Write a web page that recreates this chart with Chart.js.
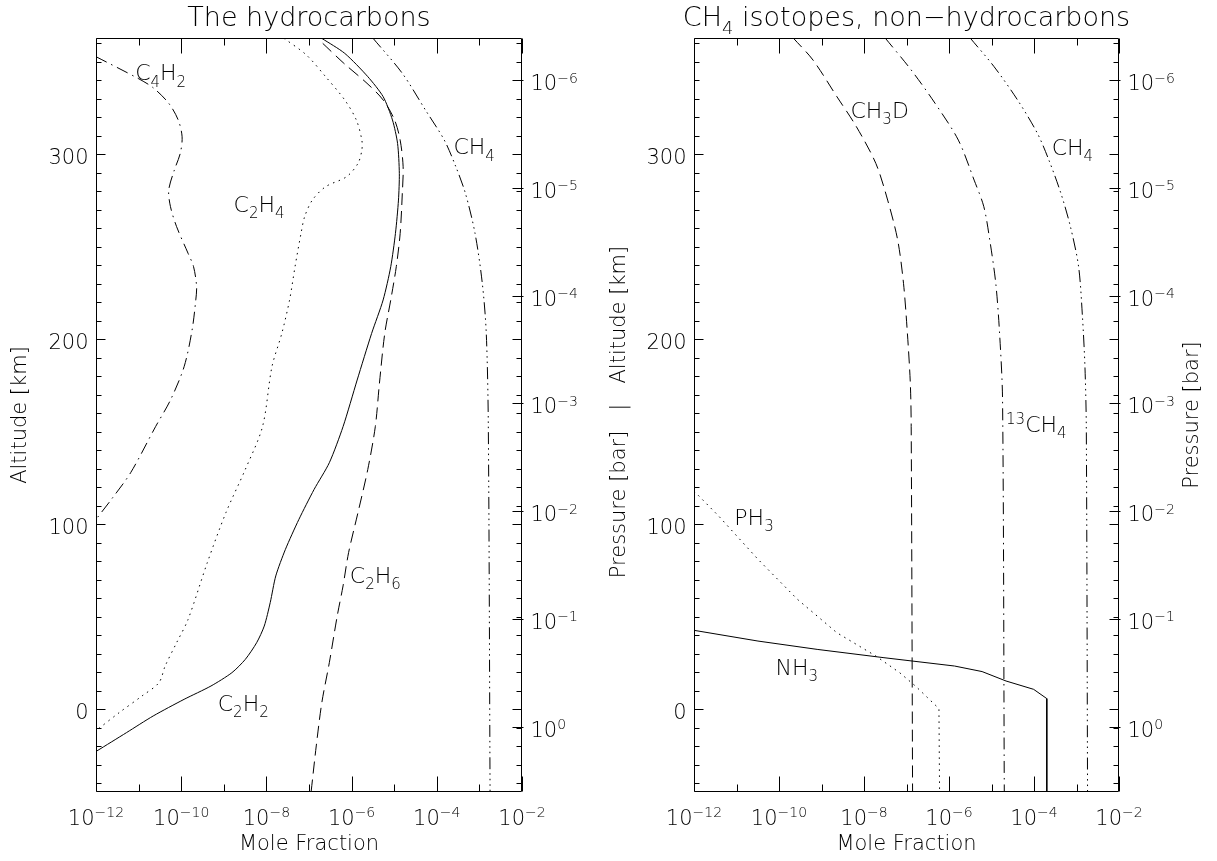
<!DOCTYPE html>
<html>
<head>
<meta charset="utf-8">
<script src="https://cdn.jsdelivr.net/npm/chart.js@4.4.1/dist/chart.umd.min.js"></script>
<style>
  html, body { margin: 0; padding: 0; background: #fff; }
  #wrap { position: relative; width: 1217px; height: 861px; overflow: hidden; background:#fff; }
  canvas { position: absolute; top: 0; }
  #cA { left: 0; }
  #cB { left: 608px; }
</style>
</head>
<body>
<div id="wrap">
  <canvas id="cA" width="608" height="861"></canvas>
  <canvas id="cB" width="609" height="861"></canvas>
</div>
<script>
// ---------------- DATA ----------------
// Axis ticks (labels written as base^exponent)
const xTickValues = [1e-12, 1e-10, 1e-8, 1e-6, 1e-4, 1e-2];
const xTickLabels = ['10^\u221212', '10^\u221210', '10^\u22128', '10^\u22126', '10^\u22124', '10^\u22122'];
const altTickValues = [0, 100, 200, 300];
const altTickLabels = ['0', '100', '200', '300'];
const presTickValues = [1e-6, 1e-5, 1e-4, 1e-3, 1e-2, 1e-1, 1e0];
const presTickLabels = ['10^\u22126', '10^\u22125', '10^\u22124', '10^\u22123', '10^\u22122', '10^\u22121', '10^0'];

// Left panel: the hydrocarbons (altitude km, mole fraction)
const c4h2Alt  = [352.8, 341, 336, 327.6, 318.6, 309.5, 300.5, 291.5, 280.7, 271.7, 260.9, 246.5, 239.3, 228.5, 221.3, 205, 185.2, 167.2, 152.8, 127.9, 113.5, 102.7];
const c4h2Frac = [1.0e-12, 9.8e-12, 2.2e-11, 5.1e-11, 8.5e-11, 1.05e-10, 9.5e-11, 6.9e-11, 5.1e-11, 5.6e-11, 7.8e-11, 1.45e-10, 1.95e-10, 2.3e-10, 2.2e-10, 1.8e-10, 1.17e-10, 5.6e-11, 2.5e-11, 6.5e-12, 2.3e-12, 1.0e-12];

const c2h4Alt  = [362.7, 353.7, 342, 329.4, 318.6, 307.7, 302.3, 295.1, 287.9, 282.5, 275.3, 266.3, 257.3, 239.3, 221.3, 203.2, 185.2, 152.8, 129.7, 106.3, 79.3, 48.6, 36, 23.4, 14.4, 7.2, -1.8, -10.8];
const c2h4Frac = [2.6e-8, 8.7e-8, 2.45e-7, 6.9e-7, 1.29e-6, 1.74e-6, 1.74e-6, 1.41e-6, 7.6e-7, 2.45e-7, 1.2e-7, 7.9e-8, 6.5e-8, 4.7e-8, 3.5e-8, 2.3e-8, 1.35e-8, 8.1e-9, 3.2e-9, 1.12e-9, 4.1e-10, 1.45e-10, 7.8e-11, 4.2e-11, 3.0e-11, 1.2e-11, 3.5e-12, 1.1e-12];

const c2h2Alt  = [362.7, 354.6, 342, 331.2, 318.6, 305.9, 289.7, 275.3, 257.3, 239.3, 221.3, 203.2, 178, 152.8, 133.3, 118.9, 102.7, 86.5, 72.1, 57.7, 45, 36, 27, 19.8, 12.6, 5.4, -3.6, -12.6, -22.5];
const c2h2Frac = [2.0e-7, 6.9e-7, 2.4e-6, 5.5e-6, 9.1e-6, 1.2e-5, 1.32e-5, 1.26e-5, 1.07e-5, 8.3e-6, 5.5e-6, 2.95e-6, 1.35e-6, 6.3e-7, 3.0e-7, 1.32e-7, 5.8e-8, 2.8e-8, 1.66e-8, 1.23e-8, 8.9e-9, 5.9e-9, 3.2e-9, 1.55e-9, 5.0e-10, 1.17e-10, 2.2e-11, 5.2e-12, 1.05e-12];

const c2h6Alt  = [360, 349.2, 338.4, 329.4, 318.6, 307.7, 293.3, 278.9, 257.3, 239.3, 221.3, 203.2, 176.2, 152.8, 129.7, 106.3, 84.7, 66.7, 50.5, 25.2, 3.6, -19.8, -44.7];
const c2h6Frac = [2.1e-7, 6.6e-7, 2.3e-6, 5.5e-6, 1.02e-5, 1.38e-5, 1.62e-5, 1.55e-5, 1.38e-5, 1.12e-5, 8.3e-6, 6.0e-6, 4.5e-6, 3.6e-6, 2.4e-6, 1.41e-6, 8.5e-7, 6.3e-7, 4.6e-7, 3.0e-7, 2.0e-7, 1.48e-7, 1.12e-7];

const ch4LAlt  = [362.7, 343.8, 324, 307.7, 293.3, 278.9, 257.3, 230.3, 203.2, 152.8, -44.7];
const ch4LFrac = [3.2e-6, 1.55e-5, 5.4e-5, 1.5e-4, 2.8e-4, 4.7e-4, 7.9e-4, 1.17e-3, 1.45e-3, 1.62e-3, 1.78e-3];

// Right panel: CH4 isotopes, non-hydrocarbons
const ch3dAlt  = [362.7, 351, 331.2, 315, 295.1, 275.3, 253.7, 230.3, 203.2, 176.2, 152.8, -44.7];
const ch3dFrac = [2.2e-10, 6.3e-10, 2.3e-9, 6.6e-9, 1.9e-8, 3.6e-8, 6.2e-8, 8.5e-8, 1.05e-7, 1.23e-7, 1.29e-7, 1.39e-7];

const c13h4Alt  = [362.7, 345.6, 327.6, 307.7, 286.1, 271.7, 253.7, 230.3, 203.2, 167.2, -44.7];
const c13h4Frac = [3.2e-8, 1.29e-7, 4.7e-7, 1.66e-6, 3.9e-6, 6.6e-6, 9.1e-6, 1.26e-5, 1.55e-5, 1.82e-5, 2.0e-5];

const ch4RAlt  = [362.7, 347.4, 329.4, 311.4, 296.9, 278.9, 260.9, 239.3, 212.3, 185.2, 152.8, -44.7];
const ch4RFrac = [3.2e-6, 1.15e-5, 4.1e-5, 1.2e-4, 2.24e-4, 4.3e-4, 7.2e-4, 1.12e-3, 1.38e-3, 1.58e-3, 1.7e-3, 1.82e-3];

const ph3Alt  = [118, 104.5, 81.1, 59.5, 41.4, 28.8, 19.8, 12.6, 0.4, -44.7];
const ph3Frac = [1.0e-12, 3.8e-12, 3.2e-11, 2.7e-10, 2.3e-9, 1.9e-8, 6.9e-8, 1.62e-7, 5.8e-7, 6.0e-7];

const nh3Alt  = [42.7, 36.9, 32.4, 27.9, 23.4, 20.4, 15.3, 10.8, 5.8, -44.7];
const nh3Frac = [1.0e-12, 3.2e-11, 7.9e-10, 2.95e-8, 1.35e-6, 6.0e-6, 2.2e-5, 9.8e-5, 2.0e-4, 2.0e-4];

// ---------------- STYLE / HELPERS ----------------
const FONT = '"DejaVu Sans", "Liberation Sans", sans-serif';
const FW = '200';
const INK = '#000';
const DOT = [1.5, 4.5];
const DASH = [12, 6];
const DASHDOT = [12, 5, 1.5, 5];
const DASH3DOT = [12, 4, 1.5, 4, 1.5, 4, 1.5, 4];

function pts(alt, frac) { return frac.map((f, i) => ({ x: f, y: alt[i] })); }
function ds(alt, frac, dash, tension) {
  return { data: pts(alt, frac), borderColor: '#000', borderWidth: 1, borderDash: dash,
           pointRadius: 0, showLine: true, fill: false, tension: tension };
}
function fixTicks(vals) { return s => { s.ticks = vals.map(v => ({ value: v })); }; }

function fontStr(size) { return FW + ' ' + size + 'px ' + FONT; }
function drawParts(ctx, parts, x, y, size) {
  let cx = x;
  for (const p of parts) {
    let fs = size, dy = 0;
    if (p.sub) { fs = Math.round(size * 0.68); dy = size * 0.28; }
    if (p.sup) { fs = Math.round(size * 0.66); dy = -size * 0.36; }
    ctx.font = fontStr(fs);
    ctx.fillText(p.t, cx, y + dy);
    cx += ctx.measureText(p.t).width;
  }
  return cx - x;
}
function measureParts(ctx, parts, size) {
  let w = 0;
  for (const p of parts) {
    let fs = size;
    if (p.sub) fs = Math.round(size * 0.68);
    if (p.sup) fs = Math.round(size * 0.66);
    ctx.font = fontStr(fs);
    w += ctx.measureText(p.t).width;
  }
  return w;
}
function powParts(s) {
  const i = s.indexOf('^');
  if (i < 0) return [{ t: s }];
  return [{ t: s.slice(0, i) }, { t: s.slice(i + 1), sup: true }];
}

const TICK = 21;
const decorPlugin = {
  id: 'decor',
  afterDraw(chart) {
    const o = chart.options.plugins.decor;
    const ctx = chart.ctx;
    const a = chart.chartArea;
    const xs = chart.scales.x, ya = chart.scales.y, yp = chart.scales.yp;
    ctx.save();
    ctx.strokeStyle = '#000';
    ctx.lineWidth = 1;
    ctx.setLineDash([]);
    const L = Math.round(a.left) + 0.5, R = Math.round(a.right) - 0.5;
    const T = Math.round(a.top) + 0.5, B = Math.round(a.bottom) - 0.5;
    ctx.beginPath();
    ctx.rect(L, T, R - L, B - T);
    for (let d = -12; d <= -2; d++) {
      const px = Math.round(xs.getPixelForValue(Math.pow(10, d))) + 0.5;
      const len = (d % 2 === 0) ? 15 : 7;
      ctx.moveTo(px, B); ctx.lineTo(px, B - len);
      ctx.moveTo(px, T); ctx.lineTo(px, T + len);
    }
    for (let h = -40; h <= 360; h += 10) {
      const py = Math.round(ya.getPixelForValue(h)) + 0.5;
      const len = (h % 100 === 0) ? 9 : 5;
      ctx.moveTo(L, py); ctx.lineTo(L + len, py);
      ctx.moveTo(R, py); ctx.lineTo(R - len, py);
    }
    for (const v of presTickValues) {
      const py = Math.round(yp.getPixelForValue(v)) + 0.5;
      ctx.moveTo(R + 2, py); ctx.lineTo(R - 9, py);
    }
    ctx.stroke();

    ctx.fillStyle = INK;
    ctx.textBaseline = 'alphabetic';
    ctx.textAlign = 'left';
    // x tick labels
    xTickValues.forEach((v, i) => {
      const parts = powParts(xTickLabels[i]);
      const w = measureParts(ctx, parts, TICK);
      const px = xs.getPixelForValue(v);
      drawParts(ctx, parts, px - w / 2, B + 33, TICK);
    });
    // altitude tick labels
    altTickValues.forEach((v, i) => {
      const parts = powParts(altTickLabels[i]);
      const w = measureParts(ctx, parts, TICK);
      const py = ya.getPixelForValue(v);
      drawParts(ctx, parts, L - 8 - w, py + 10, TICK);
    });
    // pressure tick labels
    presTickValues.forEach((v, i) => {
      const parts = powParts(presTickLabels[i]);
      const py = yp.getPixelForValue(v);
      drawParts(ctx, parts, R + 9, py + 10, TICK);
    });
    // curve labels
    for (const l of o.labels) {
      const px = xs.getPixelForValue(l.x), py = ya.getPixelForValue(l.y);
      drawParts(ctx, l.parts, px, py, 22);
    }
    // title
    const cxm = (a.left + a.right) / 2;
    const tw = measureParts(ctx, o.title, 27);
    drawParts(ctx, o.title, cxm - tw / 2, 26, 27);
    // x title
    ctx.font = fontStr(21);
    ctx.textAlign = 'center';
    ctx.textBaseline = 'middle';
    ctx.fillText('Mole Fraction', cxm, 845);
    // y titles (rotated)
    const cym = (a.top + a.bottom) / 2;
    for (const t of o.yTitles) {
      ctx.save();
      ctx.translate(t.x, cym + (t.dy || 0));
      ctx.rotate(-Math.PI / 2);
      ctx.fillText(t.text, 0, 0);
      ctx.restore();
    }
    ctx.restore();
  }
};

function makeChart(id, datasets, leftW, rightW, decor) {
  const hidden = { display: false };
  return new Chart(document.getElementById(id), {
    type: 'scatter',
    data: { datasets: datasets },
    options: {
      responsive: false, animation: false, devicePixelRatio: 1,
      layout: { padding: { top: 38, left: 0, right: 0, bottom: 0 } },
      plugins: { legend: { display: false }, tooltip: { enabled: false }, title: { display: false }, decor: decor },
      events: [],
      scales: {
        x: {
          type: 'logarithmic', position: 'bottom', min: 1e-12, max: 1e-2,
          afterBuildTicks: fixTicks(xTickValues),
          afterFit: s => { s.height = 69; },
          grid: { display: false, drawTicks: false }, border: { display: false },
          ticks: hidden
        },
        y: {
          type: 'linear', position: 'left', min: -44.7, max: 362.9,
          afterBuildTicks: fixTicks(altTickValues),
          afterFit: s => { s.width = leftW; },
          grid: { display: false, drawTicks: false }, border: { display: false },
          ticks: hidden
        },
        yp: {
          type: 'logarithmic', position: 'right', reverse: true, min: 4.05e-7, max: 4.04,
          afterBuildTicks: fixTicks(presTickValues),
          afterFit: s => { s.width = rightW; },
          grid: { display: false, drawTicks: false }, border: { display: false },
          ticks: hidden
        }
      }
    },
    plugins: [decorPlugin]
  });
}

makeChart('cA', [
  ds(c4h2Alt, c4h2Frac, DASHDOT, 0.3),
  ds(c2h4Alt, c2h4Frac, DOT, 0.3),
  ds(c2h2Alt, c2h2Frac, [], 0.25),
  ds(c2h6Alt, c2h6Frac, DASH, 0.3),
  ds(ch4LAlt, ch4LFrac, DASH3DOT, 0.3)
], 96, 86, {
  title: [{ t: 'The hydrocarbons' }],
  yTitles: [{ text: 'Altitude [km]', x: 21 }],
  labels: [
    { parts: [{ t: 'C' }, { t: '4', sub: true }, { t: 'H' }, { t: '2', sub: true }], x: 8.3e-12, y: 340 },
    { parts: [{ t: 'C' }, { t: '2', sub: true }, { t: 'H' }, { t: '4', sub: true }], x: 1.7e-9, y: 268.8 },
    { parts: [{ t: 'CH' }, { t: '4', sub: true }], x: 2.45e-4, y: 300 },
    { parts: [{ t: 'C' }, { t: '2', sub: true }, { t: 'H' }, { t: '6', sub: true }], x: 9.1e-7, y: 68.3 },
    { parts: [{ t: 'C' }, { t: '2', sub: true }, { t: 'H' }, { t: '2', sub: true }], x: 7.2e-10, y: -1 }
  ]
});

makeChart('cB', [
  ds(ch3dAlt, ch3dFrac, DASH, 0.3),
  ds(c13h4Alt, c13h4Frac, DASHDOT, 0.3),
  ds(ch4RAlt, ch4RFrac, DASH3DOT, 0.3),
  ds(ph3Alt, ph3Frac, DOT, 0),
  ds(nh3Alt, nh3Frac, [], 0)
], 86, 98, {
  title: [{ t: 'CH' }, { t: '4', sub: true }, { t: ' isotopes, non\u2212hydrocarbons' }],
  yTitles: [{ text: 'Pressure [bar]   |   Altitude [km]', x: 12, dy: -3 }, { text: 'Pressure [bar]', x: 585 }],
  labels: [
    { parts: [{ t: 'CH' }, { t: '3', sub: true }, { t: 'D' }], x: 4.8e-9, y: 319.6 },
    { parts: [{ t: 'CH' }, { t: '4', sub: true }], x: 2.6e-4, y: 299.6 },
    { parts: [{ t: '13', sup: true }, { t: 'CH' }, { t: '4', sub: true }], x: 2.2e-5, y: 150 },
    { parts: [{ t: 'PH' }, { t: '3', sub: true }], x: 8.9e-12, y: 99.6 },
    { parts: [{ t: 'NH' }, { t: '3', sub: true }], x: 8.3e-11, y: 18.5 }
  ]
});
</script>
</body>
</html>
